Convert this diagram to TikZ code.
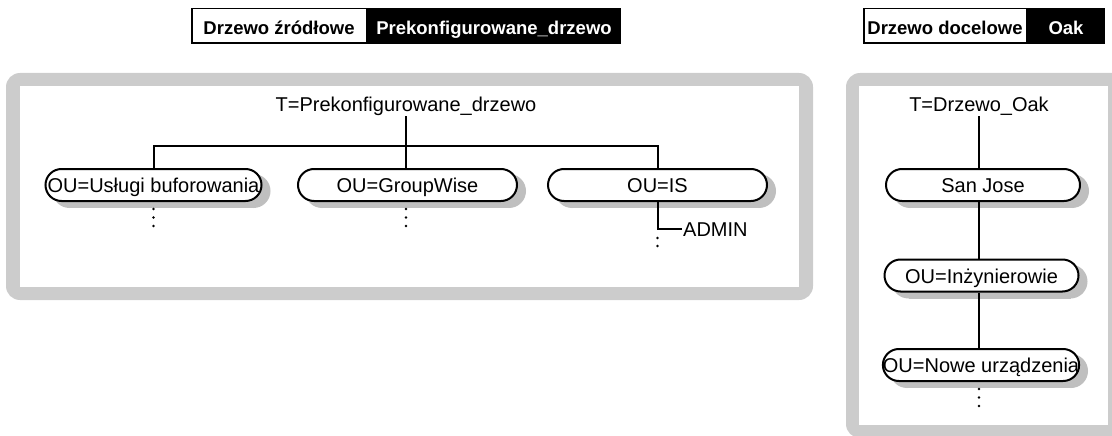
\documentclass[tikz,border=0pt]{standalone}
\usepackage{fontspec}
\setmainfont{Liberation Sans}
\definecolor{framegray}{gray}{0.8}
\definecolor{shadowgray}{rgb}{0.75,0.75,0.75}
\tikzset{
  ou/.style={draw=black, fill=white, line width=2pt, rounded corners=16pt,
    minimum height=32pt, minimum width=194pt, inner xsep=2pt, inner ysep=0pt,
    text height=15pt, text depth=0pt, font=\fontsize{20}{24}\selectfont},
  lbl/.style={font=\fontsize{20}{24}\selectfont, inner sep=0pt, anchor=base},
  hdrw/.style={draw=black, fill=white, line width=1.5pt, minimum height=34.5pt,
    inner xsep=2pt, inner ysep=0pt, text height=18pt, text depth=0pt,
    font=\fontsize{18.5}{22}\selectfont\bfseries},
  hdrb/.style={hdrw, fill=black, text=white},
  conn/.style={line width=2pt},
  dotmark/.style={fill=black},
  shd/.style={fill=shadowgray}
}
\begin{document}
\begin{tikzpicture}[x=1pt, y=-1pt]
\useasboundingbox (0,0) rectangle (1112,436);
% frames
\fill[framegray] (20,73) -- (799,73) arc[start angle=90, end angle=0, radius=14pt] -- (813,286) arc[start angle=0, end angle=-90, radius=14pt] -- (20,300) arc[start angle=-90, end angle=-180, radius=14pt] -- (6,87) arc[start angle=180, end angle=90, radius=14pt] -- cycle;
\fill[white] (20,86) rectangle (799,287);
\fill[framegray] (860,73) -- (1125,73) -- (1125,438) -- (860,438) arc[start angle=-90, end angle=-180, radius=14pt] -- (846,87) arc[start angle=180, end angle=90, radius=14pt] -- cycle;
\fill[white] (859,86) rectangle (1108,425);
% shadows of the OU boxes: a bar with a disc at each end
\fill[shd] (69.5,174) rectangle (253.5,208);
\fill[shd] (253.5,191) circle (17pt);
\fill[shd] (69.5,191) circle (17pt);
\fill[shd] (322,174) rectangle (509,208);
\fill[shd] (509,191) circle (17pt);
\fill[shd] (322,191) circle (17pt);
\fill[shd] (572,174) rectangle (759,208);
\fill[shd] (759,191) circle (17pt);
\fill[shd] (572,191) circle (17pt);
\fill[shd] (910,174) rectangle (1072,208);
\fill[shd] (1072,191) circle (17pt);
\fill[shd] (910,191) circle (17pt);
\fill[shd] (908.5,264.5) rectangle (1070.5,298.5);
\fill[shd] (1070.5,281.5) circle (17pt);
\fill[shd] (908.5,281.5) circle (17pt);
\fill[shd] (907,354) rectangle (1071,388);
\fill[shd] (1071,371) circle (17pt);
\fill[shd] (907,371) circle (17pt);
% headers
\node[hdrw, minimum width=174.5pt] (h1a) at (279,26) {Drzewo źródłowe};
\node[hdrb, minimum width=252.5pt] (h1b) at (494,26) {Prekonfigurowane\_drzewo};
\node[hdrw, minimum width=162.5pt] (h2a) at (945,26) {Drzewo docelowe};
\node[hdrb, minimum width=76.5pt] (h2b) at (1066,26) {Oak};
% left tree
\node[lbl] (t1) at (406,112) {T=Prekonfigurowane\_drzewo};
\coordinate (j) at (406,146);
\node[ou, minimum width=216pt, inner xsep=0pt] (n1) at (153.5,185) {OU=Usługi buforowania};
\node[ou, minimum width=219pt] (n2) at (407.5,185) {OU=GroupWise};
\node[ou, minimum width=219pt] (n3) at (657.5,185) {OU=IS};
\node[lbl, anchor=base west] (adm) at (683,236) {ADMIN};
\draw[conn] (t1.south) -- (t1.south |- n2.north);
\draw[conn] (n1.north) -- (n1.north |- j) -- (n3.north |- j) -- (n3.north);
\draw[conn] (n3.south) -- (n3.south |- adm.west) -- ([xshift=-1pt]adm.west);
\foreach \yy in {209,217.5,226} {
  \fill[dotmark] (153.5,\yy) circle (1.4pt);
  \fill[dotmark] (406,\yy) circle (1.4pt);
}
\fill[dotmark] (657.5,238) circle (1.4pt);
\fill[dotmark] (657.5,246) circle (1.4pt);
% right tree
\node[lbl] (t2) at (979,112) {T=Drzewo\_Oak};
\node[ou] (r1) at (983,185) {San Jose};
\node[ou] (r2) at (981.5,275.5) {OU=Inżynierowie};
\node[ou, inner xsep=0pt] (r3) at (981,365) {OU=Nowe urządzenia};
\draw[conn] (t2.south) -- (t2.south |- r1.north);
\draw[conn] (r1.south -| t2.south) -- (r2.north -| t2.south);
\draw[conn] (r2.south -| t2.south) -- (r3.north -| t2.south);
\foreach \yy in {389,397.5,406} {
  \fill[dotmark] (979,\yy) circle (1.4pt);
}
\end{tikzpicture}
\end{document}
